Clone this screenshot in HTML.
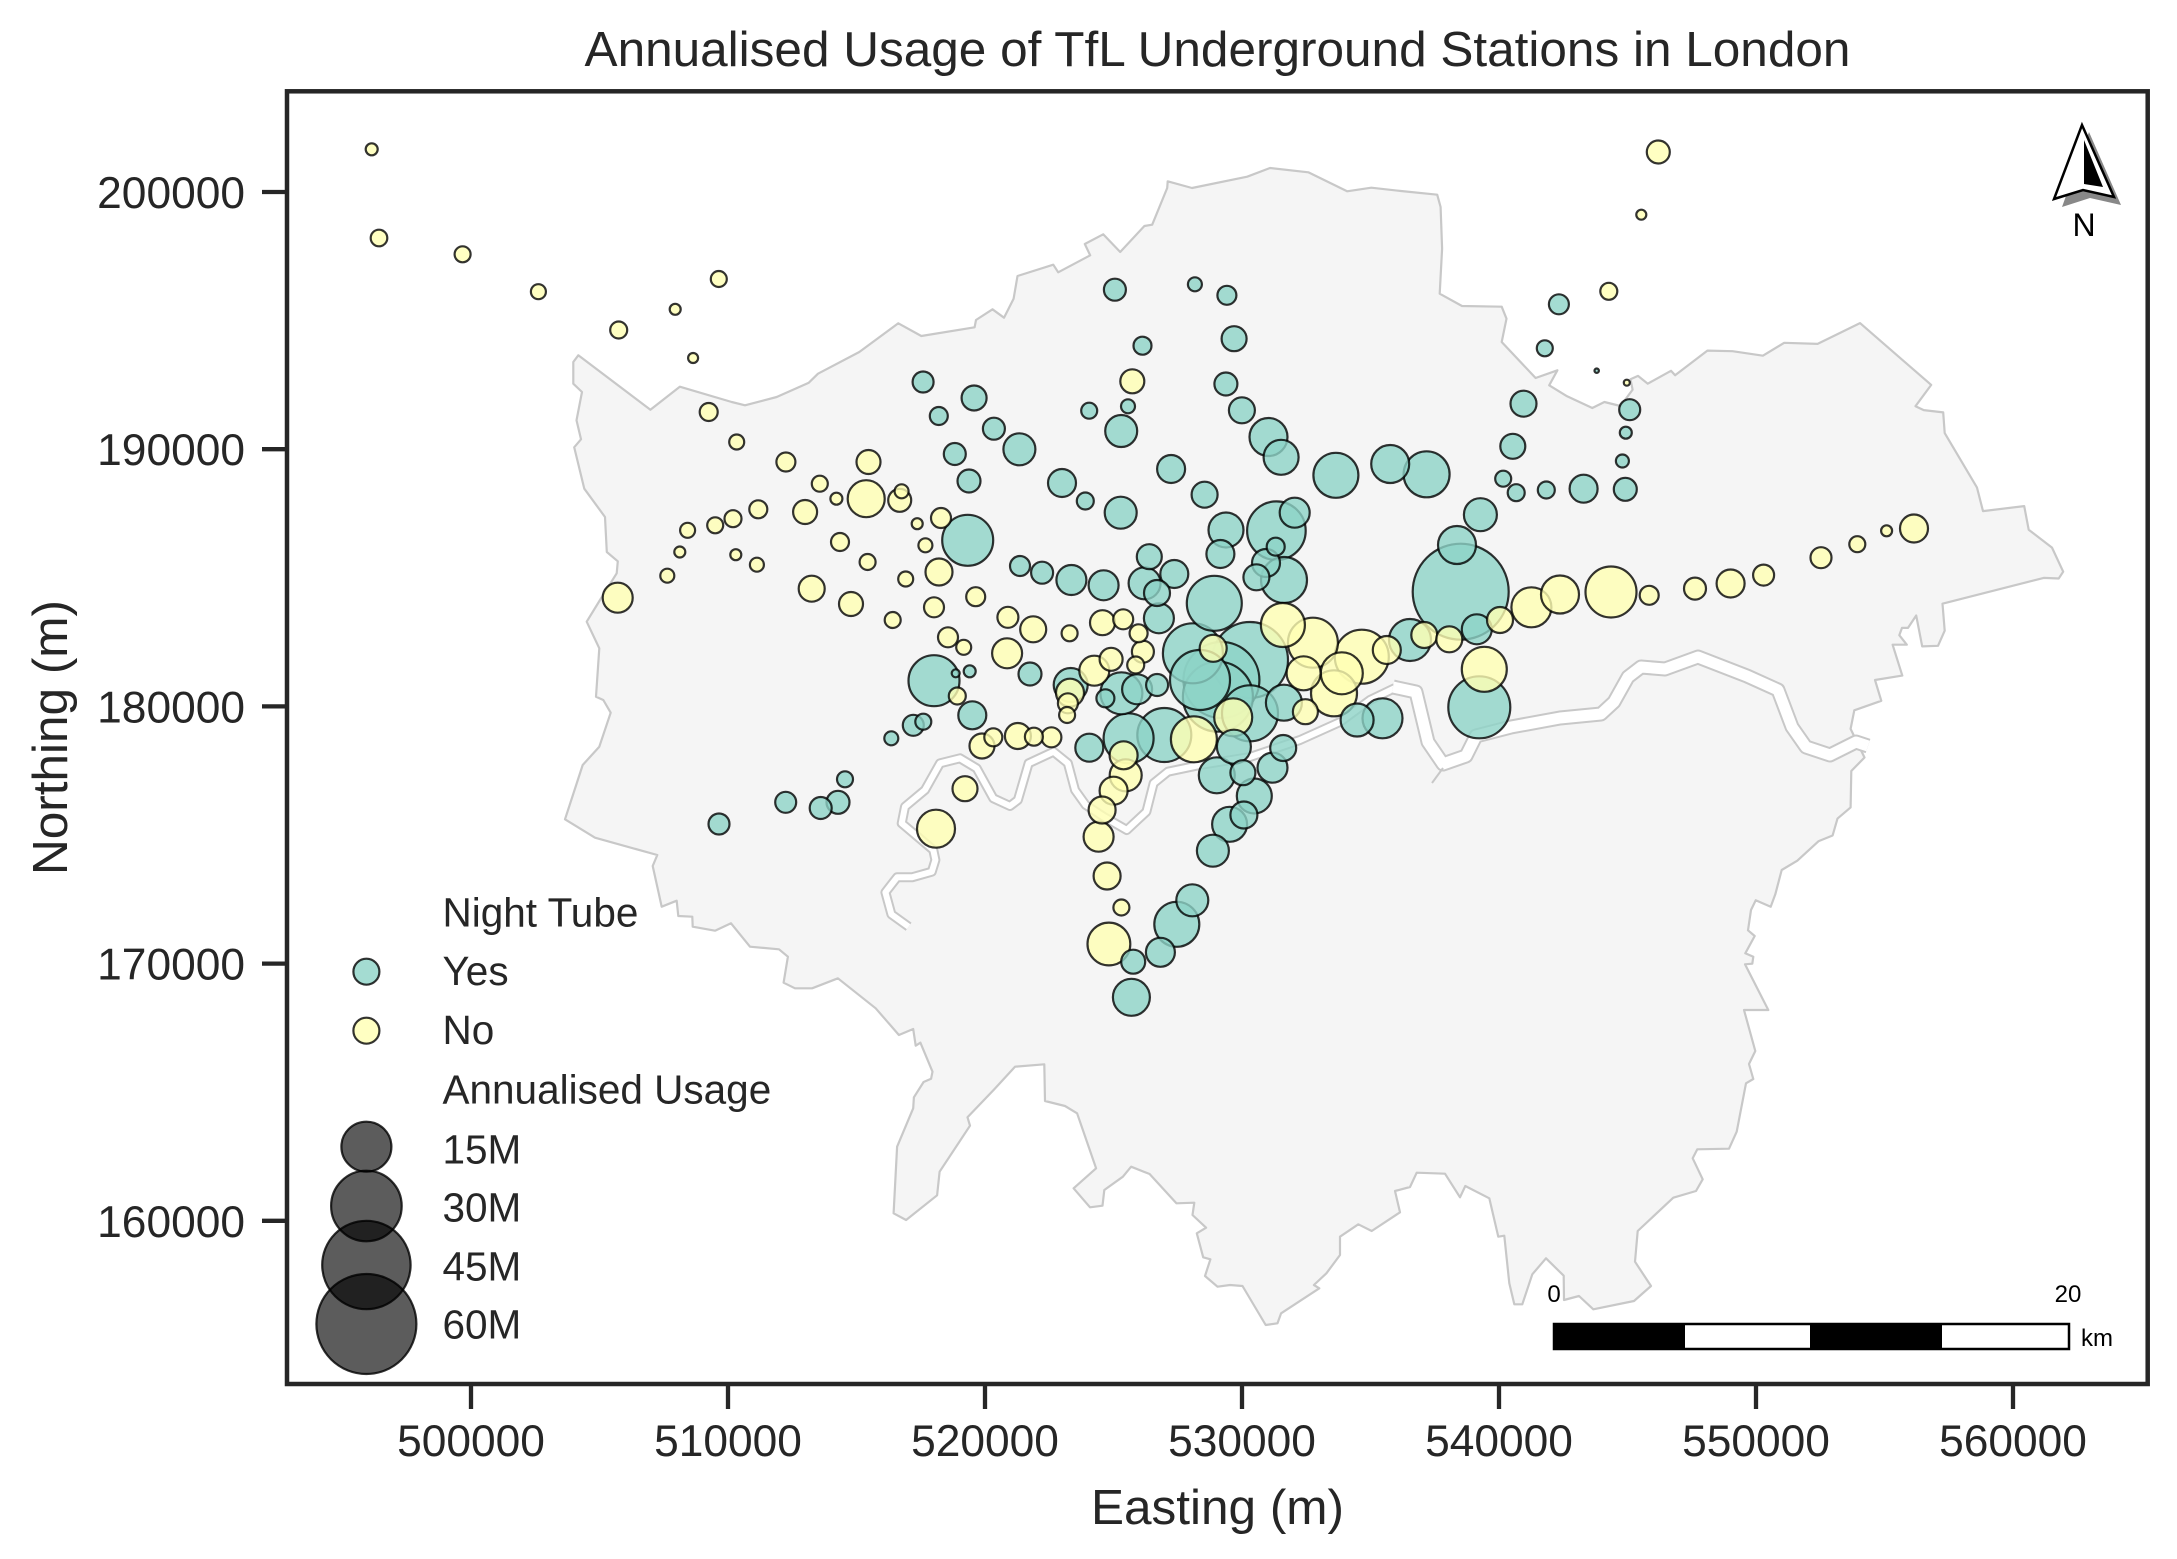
<!DOCTYPE html>
<html><head><meta charset="utf-8"><style>
html,body{margin:0;padding:0;background:#fff;}
svg{display:block;}
text{font-family:"Liberation Sans",Arial,sans-serif;fill:#262626;}
.t{fill:#8dd3c7;fill-opacity:.8;stroke:#000;stroke-opacity:.8;stroke-width:2.2;}
.y{fill:#ffffb3;fill-opacity:.8;stroke:#000;stroke-opacity:.8;stroke-width:2.2;}
</style></head><body>
<svg width="2177" height="1559" viewBox="0 0 2177 1559" xmlns="http://www.w3.org/2000/svg">
<rect width="2177" height="1559" fill="#fff"/>
<text x="1217.5" y="66" font-size="49.5" text-anchor="middle">Annualised Usage of TfL Underground Stations in London</text>

<!-- London polygon -->
<polygon fill="#f5f5f5" stroke="#c8c8c8" stroke-width="2.2" stroke-linejoin="round" points="565,819.3 582.7,765 599.3,746.7 610.7,712.7 603.3,700 596,696.7 599.3,648.3 586.7,621.7 600,600 616.7,573.3 617.8,561.3 606.8,552 605,517 584.3,488.7 574.2,447.3 581,439.3 576.5,420.3 582,392 573.3,383.7 573.3,362 578.3,355.3 650.4,409.7 679.8,386.7 731.7,402 745,405.3 776.7,397 808.8,382.7 818,373.7 859.3,352 898.3,323.3 921.3,336 974.6,327.3 976,320 992.5,309.3 1004,317.7 1013.6,298.7 1017.5,276 1053.3,264.7 1058.2,272.3 1090.2,255.3 1084.8,244 1103.2,234.3 1120.2,252 1144.4,226 1152.2,224.7 1167.2,188 1167.7,181.3 1192,188 1247.2,176.7 1270,168 1308.3,172.3 1347.1,191.3 1371.3,187.7 1400.9,191 1437.2,194.7 1440.6,207 1442.1,248.7 1439.7,293.7 1462,306 1501.7,306.7 1506.5,318.7 1501.7,342 1535.6,378 1557.4,370.3 1549.2,385.3 1567.1,396.3 1592.3,408 1604.4,402 1620.5,406 1632.6,389.7 1630.5,379.3 1638,375.9 1647.7,383.7 1671,370.8 1675.1,375.3 1707.4,350.6 1732.5,351.2 1762.9,355.7 1784.2,342.8 1817.6,343.9 1860,323.1 1931.2,384.9 1915.5,406.2 1923.7,410.1 1943.2,412.4 1944.7,433.1 1977,487.6 1983,511.1 2024.2,506.1 2028.7,529.7 2052,547.6 2063.2,571.7 2058.7,578.5 2043.7,577.9 1942.5,603.7 1944.7,630.7 1938,645.8 1922.2,646.4 1916.2,615.5 1908,627.9 1902,627.9 1899.3,635.2 1906.8,644.7 1892.6,644.7 1902.3,675.6 1875,680 1881.3,700.8 1854.3,710.3 1850.6,728.9 1864.5,757.5 1851.3,771 1850.6,807.4 1837.5,818.6 1832.6,835.5 1818.7,841.1 1797.3,860.7 1781.7,870 1775.3,894.3 1770.7,906.7 1755.7,900.3 1751,910 1748,930.3 1754.7,936 1745.3,953.3 1753.3,956.7 1752.3,963.7 1745,964.3 1768.3,1010 1744,1010 1755.3,1051 1749,1064 1753.3,1079 1746,1083.3 1736.7,1131.7 1729,1148.7 1697.3,1149.3 1692.7,1158.3 1702.7,1179.3 1696,1191 1673.3,1197.7 1637.7,1231 1635,1261.7 1651,1286 1634,1301 1593.3,1309.3 1579,1296 1564,1300 1563.7,1275.7 1546,1258.3 1532.3,1274.3 1522.3,1304.3 1514.3,1304.3 1509.3,1283.3 1504.3,1235.7 1498.3,1236.7 1489.3,1198.3 1465.3,1186 1460,1197.3 1445,1173.7 1416.7,1172.7 1410,1187 1395,1191 1400,1212.3 1371.7,1231 1358.3,1224.3 1340,1236.7 1340,1255 1326.4,1273.3 1313.9,1285 1319.3,1288.3 1281.1,1313.3 1277.5,1323.3 1265.7,1325 1242.5,1286 1230,1285 1217.5,1286.7 1205,1276 1210.4,1259.3 1203.2,1257.3 1196.8,1233.3 1206.1,1227.7 1192.5,1215 1194.3,1202.7 1176.4,1203.3 1149.6,1174 1131.1,1166.7 1122.9,1176.7 1104.3,1190 1102.5,1205.7 1090,1207.3 1073.6,1188.3 1096.1,1168.3 1077.1,1113.3 1065,1106 1045,1101 1044.3,1064.3 1015,1066.7 994.3,1089.3 967.5,1117.3 970,1125.7 939.6,1171.7 937.1,1195.3 906.1,1220 893.6,1213.3 897.1,1146.7 913.2,1108.3 913.9,1097.3 923.6,1082 931.1,1078.7 932.5,1071.7 920.4,1042.7 915.7,1045.7 913.2,1029 898.9,1035 875.7,1008.3 837.9,978.3 812.1,988.3 795,988.3 783.6,982.7 787.9,956.7 779,949.3 750,946.7 731,923.3 715,930.7 692.7,926.7 692.3,916.7 678.3,916 676.7,900.7 661.7,906.7 652.7,866 657.3,855 595,837.7"/>

<!-- Thames -->
<g fill="none" stroke-linejoin="round" stroke-linecap="butt">
<polyline stroke="#c8c8c8" stroke-width="10" points="908.6,926.7 891.4,914.3 885.4,892.3 897.1,877.3 912.1,877.3 931.8,871.7 935.4,860 933.3,850 901.7,823.3 905,806.7 925,790 940,763.3 960,758.3 976.7,768.3 993.3,798.3 1010,806 1017.9,800 1028.6,763.3 1053.6,751.7 1067.9,763.3 1075,790 1085.7,805 1103.6,816.7 1126.8,830 1146.4,811.7 1153.6,783.3 1167.9,771.7 1200,765 1250,757 1300,740 1340,722 1370,700 1395,688"/>
<polyline stroke="#fff" stroke-width="6" points="908.6,926.7 891.4,914.3 885.4,892.3 897.1,877.3 912.1,877.3 931.8,871.7 935.4,860 933.3,850 901.7,823.3 905,806.7 925,790 940,763.3 960,758.3 976.7,768.3 993.3,798.3 1010,806 1017.9,800 1028.6,763.3 1053.6,751.7 1067.9,763.3 1075,790 1085.7,805 1103.6,816.7 1126.8,830 1146.4,811.7 1153.6,783.3 1167.9,771.7 1200,765 1250,757 1300,740 1340,722 1370,700 1395,688"/>
<polyline stroke="#c8c8c8" stroke-width="15" points="1393,687 1416,692 1428,742 1443,764 1466,756 1476,736 1511,727 1560,718 1601,714 1614,702 1628,677 1641,667 1665,669 1698,657 1747,676 1778,690 1792,727 1806,747 1830,755 1856,742 1868,746"/>
<polyline stroke="#fff" stroke-width="11" points="1393,687 1416,692 1428,742 1443,764 1466,756 1476,736 1511,727 1560,718 1601,714 1614,702 1628,677 1641,667 1665,669 1698,657 1747,676 1778,690 1792,727 1806,747 1830,755 1856,742 1868,746"/>
<polyline stroke="#c8c8c8" stroke-width="2" points="1443,768 1432,783"/>
</g>

<!-- stations -->
<g>
<circle class="t" cx="1460.7" cy="591.7" r="48"/>
<circle class="t" cx="1250" cy="660" r="38"/>
<circle class="t" cx="1221.4" cy="680" r="38"/>
<circle class="t" cx="1217.9" cy="696.7" r="35"/>
<circle class="t" cx="1479.3" cy="707.3" r="31"/>
<circle class="t" cx="1192.9" cy="653.3" r="30"/>
<circle class="t" cx="1200" cy="680" r="30"/>
<circle class="t" cx="1276.4" cy="530.7" r="29.3"/>
<circle class="t" cx="1250" cy="713.3" r="28"/>
<circle class="t" cx="1214.3" cy="603.3" r="27.5"/>
<circle class="y" cx="1361.8" cy="656.7" r="27"/>
<circle class="t" cx="1164.3" cy="735" r="27"/>
<circle class="y" cx="1611" cy="592" r="25.5"/>
<circle class="t" cx="967.7" cy="540.3" r="25.5"/>
<circle class="t" cx="934" cy="680.7" r="25.5"/>
<circle class="y" cx="1312.9" cy="642.7" r="25"/>
<circle class="t" cx="1128.6" cy="738.3" r="25"/>
<circle class="t" cx="1426.6" cy="474.3" r="23"/>
<circle class="t" cx="1284" cy="580" r="23"/>
<circle class="y" cx="1334" cy="693.3" r="23"/>
<circle class="y" cx="1193.9" cy="739.3" r="23"/>
<circle class="t" cx="1335.9" cy="475.3" r="22.5"/>
<circle class="y" cx="1484.3" cy="669.3" r="22.5"/>
<circle class="t" cx="1176.8" cy="924.3" r="22.5"/>
<circle class="y" cx="1282.9" cy="625" r="22"/>
<circle class="y" cx="1108.9" cy="944" r="21.4"/>
<circle class="t" cx="1410" cy="640" r="21"/>
<circle class="y" cx="1341.8" cy="673.3" r="21"/>
<circle class="t" cx="1121.4" cy="693.3" r="21"/>
<circle class="y" cx="1531.4" cy="607.3" r="20"/>
<circle class="t" cx="1382.5" cy="718.3" r="20"/>
<circle class="y" cx="1560" cy="594.5" r="19"/>
<circle class="t" cx="1390.2" cy="464" r="19"/>
<circle class="t" cx="1268.5" cy="437" r="19"/>
<circle class="t" cx="1457" cy="545" r="19"/>
<circle class="y" cx="1233.2" cy="717.3" r="19"/>
<circle class="y" cx="936" cy="828.7" r="19"/>
<circle class="y" cx="866.2" cy="498.7" r="18.5"/>
<circle class="t" cx="1131.4" cy="997.3" r="18.5"/>
<circle class="t" cx="1283.9" cy="702.7" r="18"/>
<circle class="t" cx="1216.8" cy="775.3" r="18"/>
<circle class="t" cx="1281.1" cy="457.3" r="17.5"/>
<circle class="t" cx="1226" cy="530" r="17.5"/>
<circle class="t" cx="1254.3" cy="796" r="17.5"/>
<circle class="t" cx="1229.6" cy="824.3" r="17.5"/>
<circle class="y" cx="1303.6" cy="673.3" r="17"/>
<circle class="t" cx="1233.9" cy="746.7" r="17"/>
<circle class="t" cx="1070.7" cy="685" r="17"/>
<circle class="t" cx="1357.1" cy="720" r="16.5"/>
<circle class="t" cx="1480.4" cy="514.7" r="16.5"/>
<circle class="t" cx="1121.2" cy="431" r="16"/>
<circle class="t" cx="1019.4" cy="449.3" r="16"/>
<circle class="t" cx="1120.7" cy="512.7" r="16"/>
<circle class="t" cx="1212.9" cy="850.7" r="16"/>
<circle class="t" cx="1144.6" cy="583.3" r="16"/>
<circle class="t" cx="1192.3" cy="900.3" r="16"/>
<circle class="y" cx="1125.7" cy="775.3" r="16"/>
<circle class="t" cx="1294.7" cy="512.7" r="15"/>
<circle class="t" cx="1476.8" cy="629.3" r="15"/>
<circle class="t" cx="1272.5" cy="767.7" r="15"/>
<circle class="t" cx="1137.1" cy="689.3" r="15"/>
<circle class="t" cx="1158.9" cy="618.3" r="15"/>
<circle class="t" cx="1071.4" cy="580" r="15"/>
<circle class="t" cx="1103.6" cy="585.3" r="15"/>
<circle class="y" cx="617.7" cy="597.7" r="15"/>
<circle class="y" cx="1098.6" cy="836.7" r="15"/>
<circle class="y" cx="1094.3" cy="670.7" r="15"/>
<circle class="y" cx="1007.1" cy="653.3" r="15"/>
<circle class="t" cx="1583.6" cy="488.7" r="14"/>
<circle class="t" cx="1171.1" cy="469" r="14"/>
<circle class="t" cx="1062" cy="483" r="14"/>
<circle class="t" cx="1220.4" cy="554" r="14"/>
<circle class="t" cx="1266" cy="563" r="14"/>
<circle class="y" cx="1386.8" cy="650" r="14"/>
<circle class="y" cx="1113.6" cy="790.7" r="14"/>
<circle class="y" cx="1123.6" cy="755.3" r="14"/>
<circle class="t" cx="1089.3" cy="747.7" r="14"/>
<circle class="t" cx="972.3" cy="715.3" r="14"/>
<circle class="t" cx="1174.3" cy="574" r="14"/>
<circle class="y" cx="1070" cy="692.7" r="14"/>
<circle class="y" cx="1914" cy="528.5" r="14"/>
<circle class="y" cx="1730.6" cy="583.5" r="14"/>
<circle class="t" cx="1160.4" cy="952.3" r="14.5"/>
<circle class="y" cx="939" cy="572" r="13.5"/>
<circle class="y" cx="1213.2" cy="648.3" r="13.5"/>
<circle class="y" cx="1107.1" cy="876" r="13.5"/>
<circle class="y" cx="1102.1" cy="810" r="13.5"/>
<circle class="t" cx="1243.9" cy="815" r="13.5"/>
<circle class="t" cx="1523.5" cy="403.7" r="13"/>
<circle class="t" cx="1241.9" cy="410.3" r="13"/>
<circle class="t" cx="1204.6" cy="494.7" r="13"/>
<circle class="t" cx="1256.4" cy="577.3" r="13"/>
<circle class="y" cx="1500" cy="620" r="13"/>
<circle class="y" cx="1424.3" cy="635" r="13"/>
<circle class="y" cx="1449.3" cy="639.3" r="13"/>
<circle class="t" cx="1283.2" cy="748" r="13"/>
<circle class="y" cx="1033.2" cy="629.3" r="13"/>
<circle class="t" cx="1157" cy="593" r="13"/>
<circle class="y" cx="1017.9" cy="736" r="13"/>
<circle class="y" cx="811.7" cy="588.7" r="13"/>
<circle class="t" cx="1512.8" cy="446.3" r="12.5"/>
<circle class="t" cx="1234.1" cy="338.7" r="12.5"/>
<circle class="t" cx="974.1" cy="398" r="12.5"/>
<circle class="t" cx="1242.9" cy="772.7" r="12.5"/>
<circle class="y" cx="1305.4" cy="711.7" r="12.5"/>
<circle class="y" cx="1102.5" cy="622.7" r="12.5"/>
<circle class="t" cx="1149.3" cy="556.7" r="12.5"/>
<circle class="y" cx="982" cy="746" r="12.5"/>
<circle class="y" cx="965" cy="788.7" r="12.5"/>
<circle class="y" cx="868.5" cy="462" r="12"/>
<circle class="y" cx="805.1" cy="512" r="12"/>
<circle class="y" cx="1132.3" cy="381.3" r="12"/>
<circle class="y" cx="851" cy="604" r="12"/>
<circle class="t" cx="1133.2" cy="961.7" r="12"/>
<circle class="t" cx="1625.3" cy="489.3" r="11.5"/>
<circle class="t" cx="1225.9" cy="384" r="11.5"/>
<circle class="t" cx="969" cy="481" r="11.5"/>
<circle class="y" cx="899.7" cy="500.3" r="11.5"/>
<circle class="y" cx="1658.3" cy="152" r="11.5"/>
<circle class="y" cx="1111.1" cy="659.3" r="11.5"/>
<circle class="t" cx="1030" cy="674" r="11.5"/>
<circle class="t" cx="838" cy="802.3" r="11.5"/>
<circle class="t" cx="1114.9" cy="289.7" r="11"/>
<circle class="t" cx="993.9" cy="428.7" r="11"/>
<circle class="t" cx="954.8" cy="454" r="11"/>
<circle class="t" cx="1042.1" cy="572.7" r="11"/>
<circle class="t" cx="1157.1" cy="685" r="11"/>
<circle class="y" cx="1142.9" cy="651.7" r="11"/>
<circle class="y" cx="1695" cy="588.6" r="11"/>
<circle class="t" cx="820.7" cy="808" r="11"/>
<circle class="t" cx="1629.7" cy="409.7" r="10.5"/>
<circle class="t" cx="923.1" cy="382" r="10.5"/>
<circle class="y" cx="1007.9" cy="617.3" r="10.5"/>
<circle class="y" cx="1763.6" cy="575.1" r="10.5"/>
<circle class="y" cx="1821" cy="557.7" r="10.5"/>
<circle class="t" cx="913.3" cy="725.3" r="10.5"/>
<circle class="t" cx="785.7" cy="802.3" r="10.5"/>
<circle class="t" cx="719" cy="824" r="10.5"/>
<circle class="t" cx="1558.9" cy="304.3" r="10"/>
<circle class="t" cx="1020" cy="566" r="10"/>
<circle class="y" cx="1123.2" cy="619.3" r="10"/>
<circle class="y" cx="1067.9" cy="703.3" r="10"/>
<circle class="y" cx="1051.4" cy="737.3" r="10"/>
<circle class="y" cx="941" cy="518" r="10"/>
<circle class="y" cx="934" cy="607.3" r="10"/>
<circle class="y" cx="948" cy="637.3" r="10"/>
<circle class="y" cx="1649.2" cy="595.3" r="9.5"/>
<circle class="y" cx="785.9" cy="462" r="9.5"/>
<circle class="y" cx="975.7" cy="596.7" r="9.5"/>
<circle class="t" cx="1226.9" cy="295.3" r="9.5"/>
<circle class="t" cx="1142.5" cy="345.7" r="9"/>
<circle class="t" cx="938.8" cy="416" r="9"/>
<circle class="t" cx="1275.7" cy="546.7" r="9"/>
<circle class="t" cx="1105.4" cy="698.3" r="9"/>
<circle class="y" cx="1138.6" cy="633.3" r="9"/>
<circle class="y" cx="758.3" cy="509.3" r="9"/>
<circle class="y" cx="840" cy="542" r="9"/>
<circle class="y" cx="708.7" cy="412" r="9"/>
<circle class="y" cx="1033.9" cy="736.7" r="9"/>
<circle class="y" cx="993.3" cy="737.3" r="9"/>
<circle class="t" cx="1546.3" cy="490" r="8.5"/>
<circle class="t" cx="1516.2" cy="492.7" r="8.5"/>
<circle class="t" cx="1085.3" cy="501" r="8.5"/>
<circle class="y" cx="1608.8" cy="291.3" r="8.5"/>
<circle class="y" cx="618.7" cy="330" r="8.5"/>
<circle class="y" cx="733" cy="518.7" r="8.5"/>
<circle class="y" cx="1135.7" cy="665" r="8.5"/>
<circle class="y" cx="957.3" cy="696" r="8.5"/>
<circle class="y" cx="1121.4" cy="907.5" r="8"/>
<circle class="y" cx="379" cy="238" r="8.3"/>
<circle class="t" cx="1544.8" cy="348.3" r="8"/>
<circle class="t" cx="1503.2" cy="478.7" r="8"/>
<circle class="t" cx="1089.2" cy="410.7" r="8"/>
<circle class="t" cx="923.3" cy="721.7" r="8"/>
<circle class="t" cx="845" cy="779.3" r="8"/>
<circle class="y" cx="462.6" cy="254.3" r="8"/>
<circle class="y" cx="718.8" cy="279" r="8"/>
<circle class="y" cx="819.8" cy="483.7" r="8"/>
<circle class="y" cx="715.2" cy="525.3" r="8"/>
<circle class="y" cx="867.6" cy="562" r="8"/>
<circle class="y" cx="1069.6" cy="633.3" r="8"/>
<circle class="y" cx="1067.1" cy="715" r="8"/>
<circle class="y" cx="892.7" cy="620" r="8"/>
<circle class="y" cx="1857.3" cy="544.2" r="8"/>
<circle class="y" cx="538.4" cy="291.7" r="7.5"/>
<circle class="y" cx="736.7" cy="442" r="7.5"/>
<circle class="y" cx="687.6" cy="530.3" r="7.5"/>
<circle class="y" cx="905.7" cy="579" r="7.5"/>
<circle class="y" cx="963.7" cy="647.3" r="7.5"/>
<circle class="t" cx="1194.9" cy="284.3" r="7"/>
<circle class="t" cx="1128" cy="406.3" r="7"/>
<circle class="t" cx="891.3" cy="738.3" r="7"/>
<circle class="y" cx="901.6" cy="491.3" r="7"/>
<circle class="y" cx="925.4" cy="545.3" r="7"/>
<circle class="y" cx="756.9" cy="564.7" r="7"/>
<circle class="y" cx="667.3" cy="575.7" r="7"/>
<circle class="t" cx="1622.4" cy="461" r="6.5"/>
<circle class="t" cx="1625.8" cy="432.7" r="6"/>
<circle class="t" cx="969.7" cy="671.3" r="6"/>
<circle class="y" cx="836.4" cy="498.7" r="6"/>
<circle class="y" cx="371.7" cy="149.3" r="6"/>
<circle class="y" cx="675.2" cy="309.3" r="5.5"/>
<circle class="y" cx="917.2" cy="523.7" r="5.5"/>
<circle class="y" cx="679.8" cy="552" r="5.5"/>
<circle class="y" cx="735.8" cy="554.7" r="5.5"/>
<circle class="y" cx="1886.6" cy="530.8" r="5.5"/>
<circle class="y" cx="1641.3" cy="214.7" r="5"/>
<circle class="y" cx="693.1" cy="358" r="5"/>
<circle class="t" cx="955.7" cy="673.3" r="4"/>
<circle class="y" cx="1626.8" cy="382.7" r="3"/>
<circle class="t" cx="1596.7" cy="370.7" r="2.2"/>
</g>

<!-- legend -->
<g font-size="40.5">
<text x="442.5" y="926.7">Night Tube</text>
<circle class="t" cx="366.4" cy="971.7" r="13"/>
<text x="442.5" y="985">Yes</text>
<circle class="y" cx="366.4" cy="1030.7" r="13"/>
<text x="442.5" y="1044">No</text>
<text x="442.5" y="1103.3">Annualised Usage</text>
<g fill="#000" fill-opacity="0.64" stroke="#000" stroke-opacity="0.8" stroke-width="2.2">
<circle cx="366.4" cy="1146.7" r="25"/>
<circle cx="366.4" cy="1206" r="35.3"/>
<circle cx="366.4" cy="1265" r="44.2"/>
<circle cx="366.4" cy="1324" r="50"/>
</g>
<text x="442.5" y="1163.3">15M</text>
<text x="442.5" y="1221.7">30M</text>
<text x="442.5" y="1280.7">45M</text>
<text x="442.5" y="1338.3">60M</text>
</g>

<!-- north arrow -->
<polygon points="2089,132 2121,205 2090,198 2062,207" fill="#888"/>
<polygon points="2082,125 2114,197 2083,190 2054,199" fill="#fff" stroke="#000" stroke-width="2.5" stroke-linejoin="miter"/>
<polygon points="2084,140 2084,184 2103,187" fill="#000"/>
<text x="2084" y="236" font-size="32" text-anchor="middle" style="fill:#000">N</text>

<!-- scale bar -->
<rect x="1554" y="1324" width="515" height="25" fill="#fff" stroke="#000" stroke-width="2.5"/>
<rect x="1554" y="1324" width="131" height="25" fill="#000"/>
<rect x="1810" y="1324" width="132" height="25" fill="#000"/>
<text x="1554" y="1302" font-size="24" text-anchor="middle" style="fill:#000">0</text>
<text x="2068" y="1302" font-size="24" text-anchor="middle" style="fill:#000">20</text>
<text x="2081" y="1346" font-size="24" style="fill:#000">km</text>

<!-- axes frame -->
<rect x="287" y="91.3" width="1860.7" height="1292.7" fill="none" stroke="#262626" stroke-width="4.5"/>

<!-- ticks -->
<g stroke="#262626" stroke-width="4.3">
<line x1="471" y1="1386" x2="471" y2="1409"/>
<line x1="728" y1="1386" x2="728" y2="1409"/>
<line x1="985" y1="1386" x2="985" y2="1409"/>
<line x1="1242" y1="1386" x2="1242" y2="1409"/>
<line x1="1499" y1="1386" x2="1499" y2="1409"/>
<line x1="1756" y1="1386" x2="1756" y2="1409"/>
<line x1="2013" y1="1386" x2="2013" y2="1409"/>
<line x1="262" y1="192" x2="285" y2="192"/>
<line x1="262" y1="449.2" x2="285" y2="449.2"/>
<line x1="262" y1="706.4" x2="285" y2="706.4"/>
<line x1="262" y1="963.6" x2="285" y2="963.6"/>
<line x1="262" y1="1220.8" x2="285" y2="1220.8"/>
</g>
<g font-size="44.3" text-anchor="middle">
<text x="471" y="1456">500000</text>
<text x="728" y="1456">510000</text>
<text x="985" y="1456">520000</text>
<text x="1242" y="1456">530000</text>
<text x="1499" y="1456">540000</text>
<text x="1756" y="1456">550000</text>
<text x="2013" y="1456">560000</text>
</g>
<g font-size="44.3" text-anchor="end">
<text x="245" y="208">200000</text>
<text x="245" y="465.2">190000</text>
<text x="245" y="722.4">180000</text>
<text x="245" y="979.6">170000</text>
<text x="245" y="1236.8">160000</text>
</g>
<text x="1217.5" y="1524" font-size="49.5" text-anchor="middle">Easting (m)</text>
<text transform="translate(67,737.5) rotate(-90)" font-size="49.5" text-anchor="middle">Northing (m)</text>
</svg>
</body></html>
